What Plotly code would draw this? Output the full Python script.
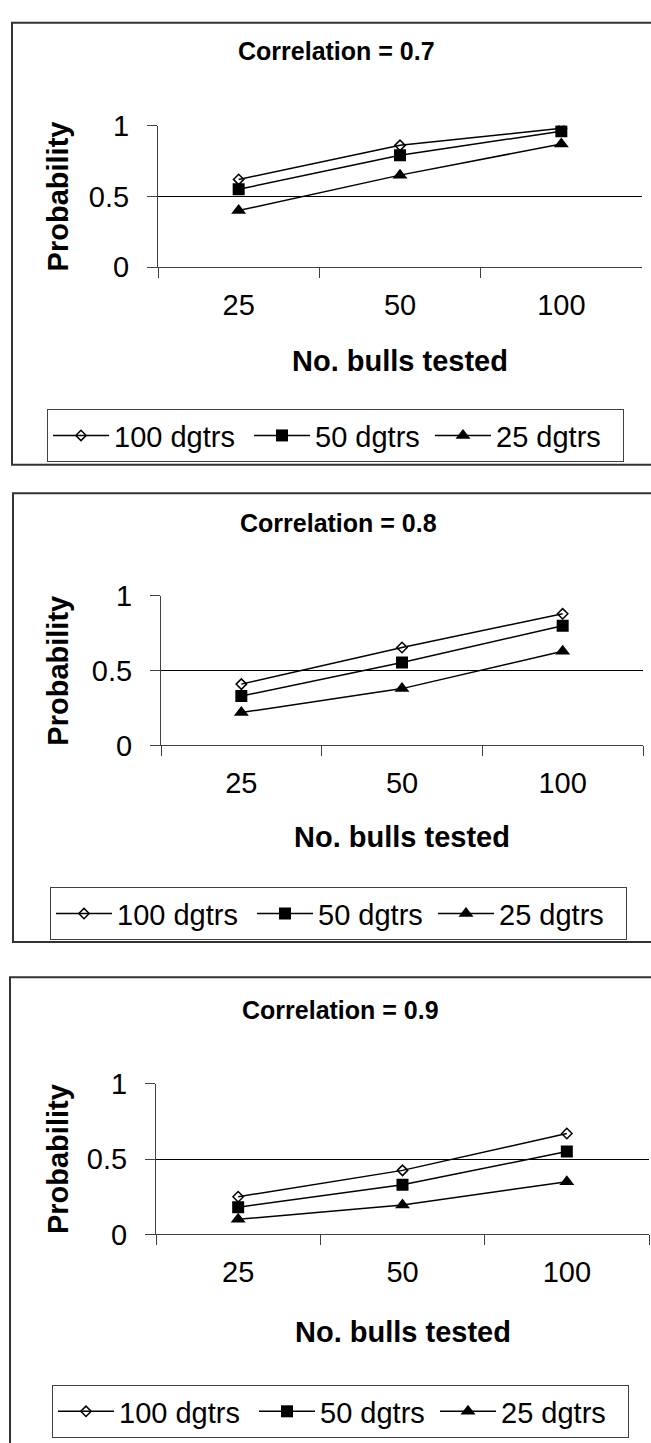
import plotly.graph_objects as go

# ---------------- data ----------------
categories = ["25", "50", "100"]
panel_titles = ["Correlation = 0.7", "Correlation = 0.8", "Correlation = 0.9"]
series_names = ["100 dgtrs", "50 dgtrs", "25 dgtrs"]

r07_100 = [0.62, 0.86, 0.98]
r07_50 = [0.55, 0.79, 0.96]
r07_25 = [0.40, 0.65, 0.87]

r08_100 = [0.41, 0.655, 0.88]
r08_50 = [0.33, 0.555, 0.80]
r08_25 = [0.22, 0.38, 0.63]

r09_100 = [0.25, 0.425, 0.67]
r09_50 = [0.18, 0.33, 0.55]
r09_25 = [0.10, 0.195, 0.35]

y_tick_vals = [0, 0.5, 1]
y_tick_text = ["0", "0.5", "1"]
x_title = "No. bulls tested"
y_title = "Probability"

panel_values = [
    [r07_100, r07_50, r07_25],
    [r08_100, r08_50, r08_25],
    [r09_100, r09_50, r09_25],
]

# ---------------- layout (pixels) ----------------
W, H = 651, 1443
FONT = "Liberation Sans, Arial, sans-serif"
INK = "#000000"
AX = "#404040"


def fx(x):
    return x / W


def fy(y):
    return 1 - y / H


panels = [
    dict(px0=158, px1=642, ptop=112, pbot=257, fl=12, ft=7, fb=459,
         ty=36, tx=336, xty=353, lx=47, ly=402),
    dict(px0=161, px1=643, ptop=593, pbot=746, fl=13, ft=488, fb=947,
         ty=518, tx=338, xty=840, lx=50, ly=891),
    dict(px0=156, px1=649, ptop=1092, pbot=1246, fl=10, ft=983, fb=1470,
         ty=1017, tx=340, xty=1346, lx=52, ly=1400),
]

marker_styles = [
    dict(symbol="diamond-open", size=8, color=INK, line=dict(width=1.5, color=INK)),
    dict(symbol="square", size=12, color=INK),
    dict(symbol="triangle-up", size=13, color=INK),
]
legend_entry_widths = [130, 110, 122]

fig = go.Figure()
layout = dict(
    width=W, height=H,
    margin=dict(l=0, r=0, t=0, b=0),
    paper_bgcolor="white", plot_bgcolor="white",
    font=dict(family=FONT, color=INK),
    showlegend=True,
    shapes=[], annotations=[],
)

for i, p in enumerate(panels):
    n = "" if i == 0 else str(i + 1)
    legend_name = "legend" + n
    for s, name in enumerate(series_names):
        fig.add_trace(go.Scatter(
            x=categories, y=panel_values[i][s], name=name,
            mode="lines+markers",
            line=dict(color=INK, width=1.5),
            marker=marker_styles[s],
            xaxis="x" + n, yaxis="y" + n,
            legend=legend_name,
            legendwidth=legend_entry_widths[s],
        ))

    layout["xaxis" + n] = dict(
        type="category", domain=[fx(p["px0"]), fx(p["px1"])],
        anchor="y" + n, range=[-0.5, 2.5],
        showline=True, linecolor=AX, linewidth=1,
        ticks="outside", ticklen=10, tickcolor=AX, tickwidth=1,
        tickson="boundaries", showgrid=False, zeroline=False,
        tickfont=dict(size=29, family=FONT, color=INK),
        ticklabelstandoff=12, fixedrange=True,
    )
    layout["yaxis" + n] = dict(
        domain=[fy(p["pbot"]), fy(p["ptop"])], anchor="x" + n,
        range=[0, 1], tickvals=y_tick_vals, ticktext=y_tick_text,
        showline=True, linecolor=AX, linewidth=1,
        ticks="outside", ticklen=10, tickcolor=AX, tickwidth=1,
        showgrid=True, gridcolor=INK, gridwidth=1, zeroline=False,
        tickfont=dict(size=29, family=FONT, color=INK),
        ticklabelstandoff=12, fixedrange=True,
    )
    layout[legend_name] = dict(
        orientation="h", x=fx(p["lx"]), y=fy(p["ly"]),
        xanchor="left", yanchor="top",
        bordercolor=AX, borderwidth=1, bgcolor="white",
        font=dict(size=29, family=FONT, color=INK),
        itemwidth=56,
    )

    # outer frame
    layout["shapes"].append(dict(
        type="rect", xref="paper", yref="paper",
        x0=fx(p["fl"]), x1=1.05, y0=fy(p["fb"]), y1=fy(p["ft"]),
        line=dict(color="#333333", width=2), fillcolor="rgba(0,0,0,0)",
        layer="below",
    ))
    # panel title
    layout["annotations"].append(dict(
        text="<b>" + panel_titles[i] + "</b>", xref="paper", yref="paper",
        x=fx(p["tx"]), y=fy(p["ty"]), xanchor="center", yanchor="middle",
        showarrow=False, font=dict(size=25, family=FONT, color=INK),
    ))
    # x axis title
    layout["annotations"].append(dict(
        text="<b>" + x_title + "</b>", xref="paper", yref="paper",
        x=fx((p["px0"] + p["px1"]) / 2), y=fy(p["xty"]),
        xanchor="center", yanchor="middle",
        showarrow=False, font=dict(size=29, family=FONT, color=INK),
    ))
    # y axis title
    layout["annotations"].append(dict(
        text="<b>" + y_title + "</b>", xref="paper", yref="paper",
        x=fx(58), y=fy((p["ptop"] + p["pbot"]) / 2),
        xanchor="center", yanchor="middle", textangle=-90,
        showarrow=False, font=dict(size=29, family=FONT, color=INK),
    ))

fig.update_layout(**layout)
fig.write_html("out.html")
